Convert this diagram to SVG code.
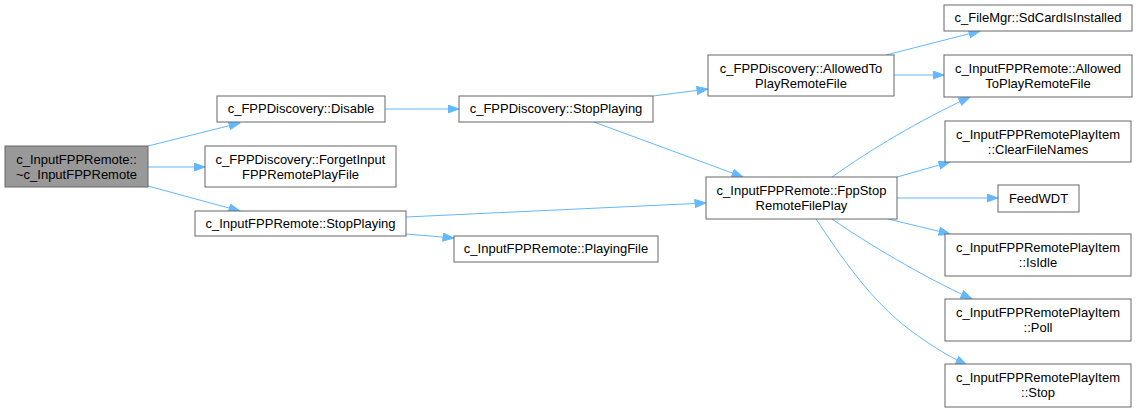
<svg xmlns="http://www.w3.org/2000/svg" width="1137" height="412" viewBox="0 0 1137 412">
<defs>
<style>
.n rect{fill:#ffffff;stroke:#666666;stroke-width:1}
.n.root rect{fill:#999999}
.n text{font-family:"Liberation Sans",Arial,Helvetica,sans-serif;font-size:13px;fill:#000000;text-anchor:middle}
#edges path{fill:none;stroke:#63b8ff;stroke-width:1;marker-end:url(#ah)}
</style>
<marker id="ah" markerUnits="userSpaceOnUse" markerWidth="12" markerHeight="10" refX="11.5" refY="4.5" orient="auto">
<path d="M0.5,0.5 L11.5,4.5 L0.5,8.5 Z" fill="#63b8ff" stroke="#63b8ff" stroke-width="1"/>
</marker>
</defs>
<rect width="1137" height="412" fill="#ffffff"/>
<g id="edges">
<path d="M148,146 L240,123"/>
<path d="M148,167 L205,167"/>
<path d="M148,186 L240,211"/>
<path d="M385,109 L459,109"/>
<path d="M653,96 L708,89"/>
<path d="M594,122 L743,177"/>
<path d="M406,217 L706,203"/>
<path d="M406,234 L454,238"/>
<path d="M886,55 L980,31"/>
<path d="M894,75 L944,75"/>
<path d="M832,177 C870,150 920,120 970,97"/>
<path d="M897,177 L950,162"/>
<path d="M897,198 L998,198"/>
<path d="M888,219 L950,234"/>
<path d="M832,219 C870,245 920,275 972,299"/>
<path d="M816,219 C840,255 870,300 910,330 C930,345 948,356 967,365"/>
</g>
<g id="n_root" class="n root"><rect x="5" y="146" width="143" height="41"/><text x="76.5" y="164">c_InputFPPRemote::</text><text x="76.5" y="179">~c_InputFPPRemote</text></g>
<g id="n_disable" class="n"><rect x="217" y="96" width="168" height="26"/><text x="301" y="113">c_FPPDiscovery::Disable</text></g>
<g id="n_forget" class="n"><rect x="205" y="146" width="191" height="41"/><text x="300.5" y="164">c_FPPDiscovery::ForgetInput</text><text x="300.5" y="179">FPPRemotePlayFile</text></g>
<g id="n_stopplaying" class="n"><rect x="195" y="211" width="211" height="25"/><text x="300.5" y="228">c_InputFPPRemote::StopPlaying</text></g>
<g id="n_discstop" class="n"><rect x="459" y="96" width="194" height="26"/><text x="556" y="113">c_FPPDiscovery::StopPlaying</text></g>
<g id="n_allowedto" class="n"><rect x="708" y="55" width="186" height="41"/><text x="801" y="73">c_FPPDiscovery::AllowedTo</text><text x="801" y="88">PlayRemoteFile</text></g>
<g id="n_fppstop" class="n"><rect x="706" y="177" width="191" height="42"/><text x="801.5" y="195">c_InputFPPRemote::FppStop</text><text x="801.5" y="210">RemoteFilePlay</text></g>
<g id="n_playingfile" class="n"><rect x="454" y="236" width="204" height="26"/><text x="556" y="253">c_InputFPPRemote::PlayingFile</text></g>
<g id="n_sdcard" class="n"><rect x="944" y="5" width="188" height="26"/><text x="1038" y="22">c_FileMgr::SdCardIsInstalled</text></g>
<g id="n_allowedplay" class="n"><rect x="944" y="55" width="188" height="42"/><text x="1038" y="73">c_InputFPPRemote::Allowed</text><text x="1038" y="88">ToPlayRemoteFile</text></g>
<g id="n_clear" class="n"><rect x="945" y="121" width="186" height="41"/><text x="1038" y="139">c_InputFPPRemotePlayItem</text><text x="1038" y="154">::ClearFileNames</text></g>
<g id="n_feedwdt" class="n"><rect x="998" y="185" width="81" height="27"/><text x="1038.5" y="203">FeedWDT</text></g>
<g id="n_isidle" class="n"><rect x="945" y="234" width="186" height="42"/><text x="1038" y="252">c_InputFPPRemotePlayItem</text><text x="1038" y="267">::IsIdle</text></g>
<g id="n_poll" class="n"><rect x="945" y="299" width="186" height="42"/><text x="1038" y="317">c_InputFPPRemotePlayItem</text><text x="1038" y="332">::Poll</text></g>
<g id="n_stop" class="n"><rect x="945" y="364" width="186" height="43"/><text x="1038" y="382">c_InputFPPRemotePlayItem</text><text x="1038" y="397">::Stop</text></g>
</svg>
